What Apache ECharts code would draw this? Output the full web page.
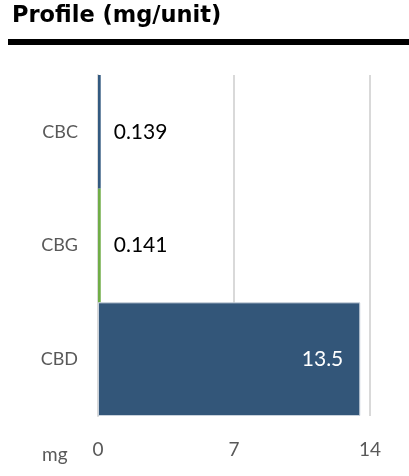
<!DOCTYPE html>
<html>
<head>
<meta charset="utf-8">
<script src="https://cdn.jsdelivr.net/npm/echarts@6/dist/echarts.min.js"></script>
<style>
  html, body { margin: 0; padding: 0; background: #fff; }
  #chart { width: 409px; height: 476px; }
</style>
</head>
<body>
<div id="chart"></div>
<script>
const categories = ['CBC', 'CBG', 'CBD'];
const values = [0.139, 0.141, 13.5];
const barColors = ['#335a80', '#70ad47', '#335679'];
const xTicks = [0, 7, 14];

const chart = echarts.init(document.getElementById('chart'));

const seriesData = values.map((v, i) => {
  const big = v > 1;
  return {
    value: v,
    itemStyle: {
      color: barColors[i],
      borderColor: big ? '#c9d2dc' : barColors[i],
      borderWidth: big ? 1 : 0
    },
    label: {
      show: true,
      position: big ? 'insideRight' : 'right',
      distance: big ? 17 : 13,
      color: big ? '#ffffff' : '#000000',
      fontFamily: 'Lato',
      fontSize: 21
    }
  };
});

chart.setOption({
  animation: false,
  grid: { left: 98, right: 39, top: 75, bottom: 60 },
  graphic: [
    {
      type: 'text', left: 12, top: 5,
      style: { text: 'Profile (mg/unit)', font: 'bold 22.5px "DejaVu Sans"', fill: '#000' }
    },
    {
      type: 'rect', left: 8, top: 39,
      shape: { width: 401, height: 6 },
      style: { fill: '#000' }
    },
    {
      type: 'text', left: 42, top: 445,
      style: { text: 'mg', font: '19px Lato', fill: '#595959' }
    }
  ],
  xAxis: {
    type: 'value',
    min: xTicks[0],
    max: xTicks[xTicks.length - 1],
    interval: 7,
    axisLine: { show: false },
    axisTick: { show: false },
    axisLabel: { color: '#595959', fontFamily: 'Lato', fontSize: 19, margin: 24 },
    splitLine: { lineStyle: { color: '#d9d9d9', width: 2 } }
  },
  yAxis: {
    type: 'category',
    data: categories,
    inverse: true,
    axisLine: { show: true, lineStyle: { color: '#d9d9d9', width: 2 } },
    axisTick: { show: false },
    axisLabel: { color: '#595959', fontFamily: 'Lato', fontSize: 18, margin: 20 }
  },
  series: [{
    type: 'bar',
    data: seriesData,
    barCategoryGap: 0,
    barWidth: '100%'
  }]
});
</script>
</body>
</html>
